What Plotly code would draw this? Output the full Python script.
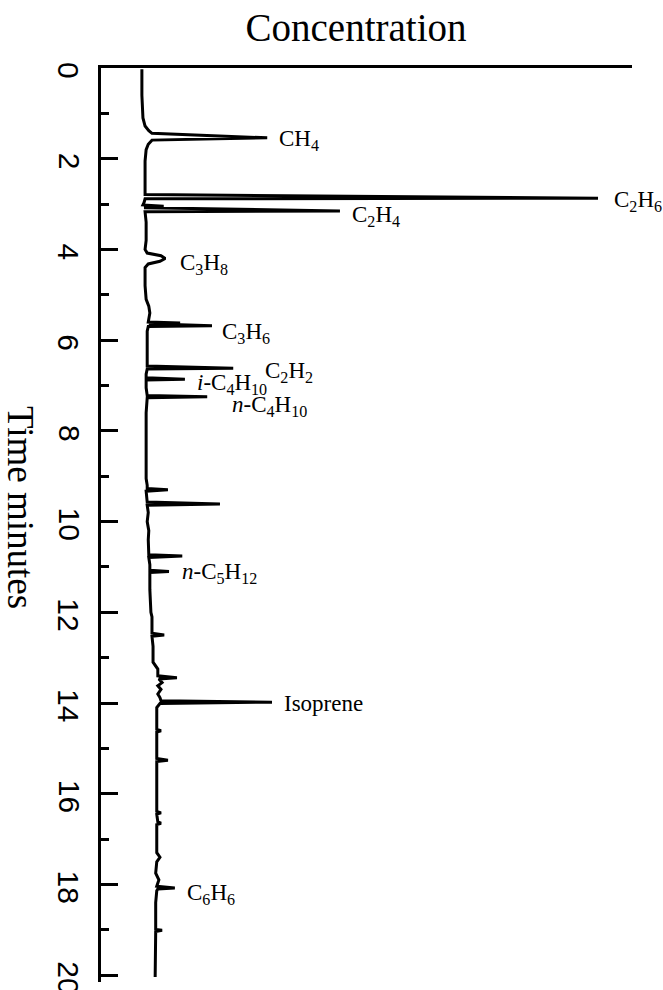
import plotly.graph_objects as go

# Recorder trace between the labelled peaks (retention time in minutes, signal in arbitrary units)
baseline_minutes = [
    0.03, 0.60, 1.10, 1.28, 1.38, 1.44,
    1.59, 1.68, 1.80, 2.05, 2.50, 2.79,
    2.885, 2.97, 3.02, 3.05, 3.08,
    3.17, 3.40, 3.80, 4.00, 4.08, 4.14,
    4.26, 4.32, 4.40, 4.80, 5.10, 5.25, 5.40, 5.50, 5.60, 5.62, 5.64,
    5.70, 5.80, 6.20, 6.57,
    6.635, 6.75, 6.83,
    6.88, 7.05, 7.22,
    7.27, 7.60, 8.50, 9.05, 9.20, 9.27, 9.30, 9.33, 9.57, 9.61, 9.64,
    9.80, 10.0, 10.2, 10.4, 10.6, 10.73, 10.76, 10.79, 10.95, 11.07,
    11.12, 11.50, 12.00, 12.10, 12.46, 12.50, 12.53, 12.75, 13.10, 13.25,
    13.40, 13.44, 13.47, 13.55, 13.62, 13.70, 13.80, 13.88, 13.95,
    14.01, 14.10, 14.58, 14.61, 14.64, 15.22, 15.26, 15.29, 16.00, 16.39,
    16.42, 16.45, 16.62, 16.65, 16.68, 17.30, 17.40, 17.50, 17.75, 17.90,
    18.04, 18.10, 18.14, 18.40, 18.99, 19.01, 19.04, 20.04,
]
baseline_signal = [
    7.7, 7.7, 7.9, 8.3, 9.0, 9.6,
    9.6, 8.9, 8.5, 8.3, 8.3, 8.3,
    8.3, 8.1, 7.9, 11.8, 8.1,
    8.3, 8.5, 8.5, 8.3, 8.7, 11.3,
    11.1, 8.9, 8.3, 8.3, 8.5, 9.0, 9.2, 9.0, 8.9, 14.9, 9.0,
    8.9, 8.7, 8.7, 8.7,
    8.7, 8.5, 8.5,
    8.5, 8.5, 8.7,
    8.7, 8.5, 8.5, 8.5, 8.7, 8.7, 12.6, 8.5, 8.7, 22.4, 8.7,
    8.9, 8.7, 9.0, 8.9, 9.0, 9.0, 15.3, 9.0, 9.2, 9.2,
    9.2, 9.2, 9.4, 9.6, 9.6, 11.9, 9.6, 9.8, 9.8, 10.7,
    10.7, 14.3, 10.9, 11.5, 10.7, 11.3, 10.7, 11.1, 11.3,
    11.1, 10.5, 10.5, 11.3, 10.5, 10.5, 12.6, 10.5, 10.5, 10.5,
    11.3, 10.5, 10.7, 11.3, 10.5, 10.5, 11.1, 10.5, 10.3, 10.9,
    10.5, 10.7, 10.5, 10.3, 10.3, 11.5, 10.3, 10.2,
]

# Labelled peaks: compound, retention time of the apex, apex signal
peak_names = [
    "CH<sub>4</sub>", "C<sub>2</sub>H<sub>6</sub>", "C<sub>2</sub>H<sub>4</sub>",
    "C<sub>3</sub>H<sub>8</sub>", "C<sub>3</sub>H<sub>6</sub>", "C<sub>2</sub>H<sub>2</sub>",
    "<i>i</i>-C<sub>4</sub>H<sub>10</sub>", "<i>n</i>-C<sub>4</sub>H<sub>10</sub>",
    "<i>n</i>-C<sub>5</sub>H<sub>12</sub>", "Isoprene", "C<sub>6</sub>H<sub>6</sub>",
]
peak_minutes = [1.54, 2.87, 3.15, 4.20, 5.68, 6.62, 6.86, 7.25, 11.10, 13.98, 18.08]
peak_signal = [31.3, 93.6, 45.0, 12.1, 20.9, 24.9, 15.8, 20.0, 12.8, 32.2, 13.9]

time_ticks = list(range(0, 21, 2))

# Full recorder trace: baseline points and peak apexes in time order
points = sorted(zip(baseline_minutes + peak_minutes, baseline_signal + peak_signal))
trace_minutes = [p[0] for p in points]
trace_signal = [p[1] for p in points]

# Label placement next to each apex (pixels)
label_xshift = [10, 14, 10, 13, 8, 30, 10, 23, 11, 10, 10]
label_yshift = [-2, -3, -5, -5, -7, -4, -5, -9, -2, -1, -6]

fig = go.Figure()
fig.add_trace(go.Scatter(
    x=trace_signal, y=trace_minutes, mode="lines",
    line=dict(color="black", width=3), hoverinfo="skip", showlegend=False,
))

for name, t, s, dx, dy in zip(peak_names, peak_minutes, peak_signal, label_xshift, label_yshift):
    fig.add_annotation(
        x=s, y=t, xref="x", yref="y", text=name, showarrow=False,
        xanchor="left", yanchor="middle", xshift=dx, yshift=dy,
        font=dict(family="Liberation Serif", size=23, color="black"),
    )

# Time tick labels, turned a quarter turn clockwise
for v in time_ticks:
    fig.add_annotation(
        x=-0.0603, y=v, xref="paper", yref="y", text=str(v), textangle=90,
        showarrow=False, xanchor="center", yanchor="middle", yshift=-3,
        font=dict(family="Liberation Sans", size=30, color="black"),
    )

fig.add_annotation(
    x=-0.1525, y=0.5197, xref="paper", yref="paper", text="Time minutes",
    textangle=90, showarrow=False, xanchor="center", yanchor="middle",
    font=dict(family="Liberation Serif", size=37, color="black"),
)

fig.update_layout(
    width=663, height=990,
    margin=dict(l=101, r=31, t=68, b=8),
    paper_bgcolor="white", plot_bgcolor="white",
    title=dict(
        text="Concentration", x=356 / 663, y=1 - 27 / 990,
        xanchor="center", yanchor="middle",
        font=dict(family="Liberation Serif", size=39, color="black"),
    ),
    xaxis=dict(
        range=[0, 100], side="top", showline=True, linewidth=3, linecolor="black",
        showticklabels=False, ticks="", showgrid=False, zeroline=False,
    ),
    yaxis=dict(
        range=[20.15, 0], showline=True, linewidth=3, linecolor="black",
        tickmode="array", tickvals=time_ticks, showticklabels=False,
        ticks="inside", ticklen=17, tickwidth=3, tickcolor="black",
        minor=dict(dtick=1, tick0=0, ticks="inside", ticklen=8, tickwidth=3, tickcolor="black"),
        showgrid=False, zeroline=False,
    ),
)

fig.write_html("out.html")
